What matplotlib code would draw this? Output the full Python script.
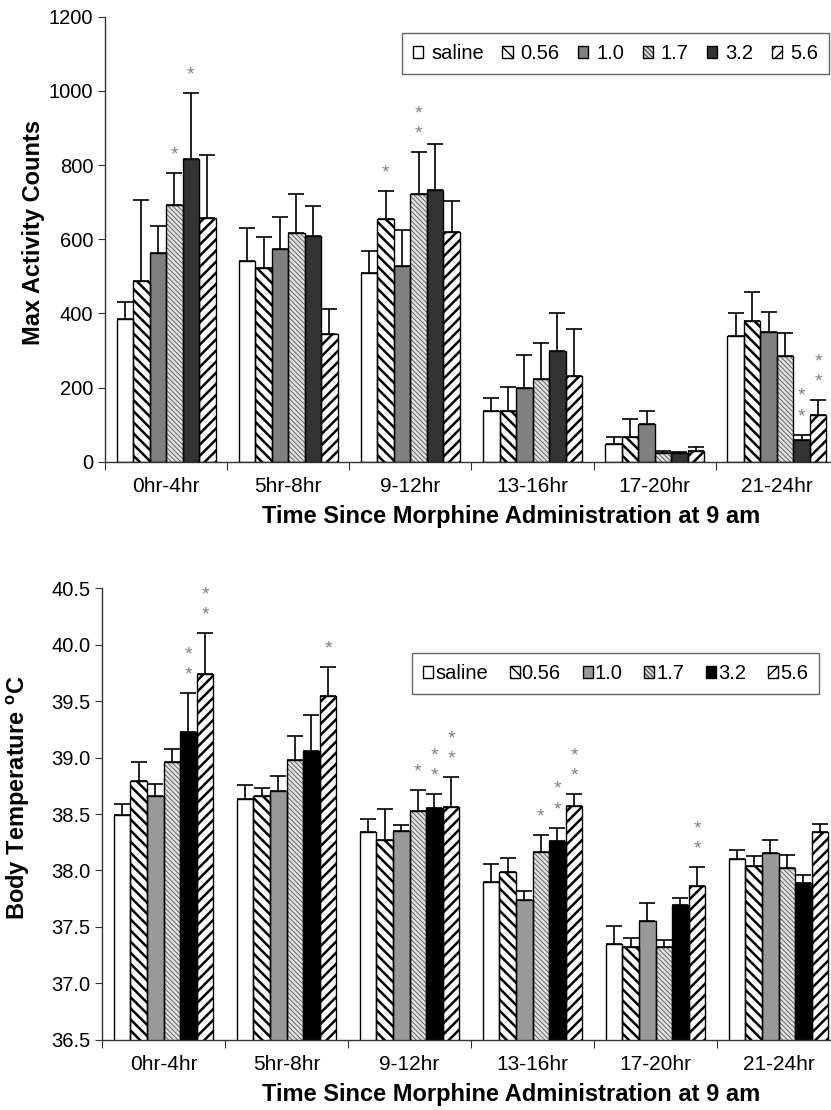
import numpy as np
import matplotlib.pyplot as plt
from matplotlib.patches import Patch
from matplotlib.legend_handler import HandlerTuple

plt.rcParams['font.family'] = ['Liberation Sans', 'DejaVu Sans']
plt.rcParams['mathtext.default'] = 'regular'

groups = ['0hr-4hr', '5hr-8hr', '9-12hr', '13-16hr', '17-20hr', '21-24hr']
doses = ['saline', '0.56', '1.0', '1.7', '3.2', '5.6']

# --- max activity counts (mean, SEM, number of stars) ---
act_saline = [384, 540, 510, 138, 48, 340]
act_056 = [487, 523, 654, 136, 67, 380]
act_10 = [564, 573, 529, 200, 101, 349]
act_17 = [693, 618, 721, 223, 24, 284]
act_32 = [816, 609, 734, 298, 24, 58]
act_56 = [656, 345, 620, 230, 30, 125]

act_sem_saline = [47, 91, 59, 35, 19, 60]
act_sem_056 = [220, 84, 77, 65, 49, 78]
act_sem_10 = [72, 86, 96, 89, 37, 56]
act_sem_17 = [85, 103, 113, 97, 5, 63]
act_sem_32 = [177, 80, 122, 103, 2, 15]
act_sem_56 = [172, 68, 84, 127, 10, 42]

act_stars_saline = [0, 0, 0, 0, 0, 0]
act_stars_056 = [0, 0, 1, 0, 0, 0]
act_stars_10 = [0, 0, 0, 0, 0, 0]
act_stars_17 = [1, 0, 2, 0, 0, 0]
act_stars_32 = [1, 0, 0, 0, 0, 2]
act_stars_56 = [0, 0, 0, 0, 0, 2]

# --- body temperature ---
tmp_saline = [38.49, 38.63, 38.34, 37.90, 37.35, 38.10]
tmp_056 = [38.79, 38.66, 38.27, 37.99, 37.32, 38.04]
tmp_10 = [38.66, 38.70, 38.35, 37.74, 37.55, 38.15]
tmp_17 = [38.96, 38.98, 38.53, 38.16, 37.32, 38.02]
tmp_32 = [39.23, 39.06, 38.55, 38.26, 37.69, 37.89]
tmp_56 = [39.74, 39.55, 38.56, 38.57, 37.86, 38.34]

tmp_sem_saline = [0.10, 0.13, 0.12, 0.16, 0.16, 0.08]
tmp_sem_056 = [0.17, 0.07, 0.27, 0.12, 0.08, 0.09]
tmp_sem_10 = [0.11, 0.14, 0.05, 0.08, 0.16, 0.12]
tmp_sem_17 = [0.12, 0.21, 0.18, 0.15, 0.06, 0.12]
tmp_sem_32 = [0.34, 0.32, 0.13, 0.12, 0.07, 0.07]
tmp_sem_56 = [0.36, 0.25, 0.27, 0.11, 0.17, 0.07]

tmp_stars_saline = [0, 0, 0, 0, 0, 0]
tmp_stars_056 = [0, 0, 0, 0, 0, 0]
tmp_stars_10 = [0, 0, 0, 0, 0, 0]
tmp_stars_17 = [0, 0, 1, 1, 0, 0]
tmp_stars_32 = [2, 0, 2, 2, 0, 0]
tmp_stars_56 = [2, 1, 2, 2, 2, 0]

act_means = [act_saline, act_056, act_10, act_17, act_32, act_56]
act_sems = [act_sem_saline, act_sem_056, act_sem_10, act_sem_17, act_sem_32, act_sem_56]
act_stars = [act_stars_saline, act_stars_056, act_stars_10, act_stars_17, act_stars_32, act_stars_56]
tmp_means = [tmp_saline, tmp_056, tmp_10, tmp_17, tmp_32, tmp_56]
tmp_sems = [tmp_sem_saline, tmp_sem_056, tmp_sem_10, tmp_sem_17, tmp_sem_32, tmp_sem_56]
tmp_stars = [tmp_stars_saline, tmp_stars_056, tmp_stars_10, tmp_stars_17, tmp_stars_32, tmp_stars_56]

# style per dose: (face, hatch, hatch colour, hatch linewidth)
style_top = [('white', '', 'black', 1.0),
             ('white', '\\\\\\', 'black', 1.8),
             ('#808080', '', 'black', 1.0),
             ('#e0e0e0', '\\\\\\\\\\\\\\', '#555555', 0.6),
             ('#333333', '', 'black', 1.0),
             ('white', '///', 'black', 1.8)]
style_bot = [('white', '', 'black', 1.0),
             ('white', '\\\\\\', 'black', 1.8),
             ('#999999', '', 'black', 1.0),
             ('#e0e0e0', '\\\\\\\\\\\\\\', '#555555', 0.6),
             ('black', '', 'black', 1.0),
             ('white', '///', 'black', 1.8)]

FS = 14.5
W = 0.135
x = np.arange(len(groups))


def draw(ax, means, sems, stars, styles):
    handles = []
    for i in range(len(doses)):
        face, hatch, hcol, hlw = styles[i]
        pos = x + (i - 2.5) * W
        with plt.rc_context({'hatch.linewidth': hlw}):
            bars = ax.bar(pos, means[i], W, color=face, hatch=hatch,
                          edgecolor=hcol, linewidth=0, zorder=2)
            for b in bars:
                if hasattr(b, 'set_hatch_linewidth'):
                    b.set_hatch_linewidth(hlw)
            hp = Patch(facecolor=face, hatch=hatch, edgecolor=hcol, linewidth=0)
            if hasattr(hp, 'set_hatch_linewidth'):
                hp.set_hatch_linewidth(min(hlw, 1.0))
        ax.bar(pos, means[i], W, fill=False, edgecolor='black',
               linewidth=1.0, zorder=3)
        ax.errorbar(pos, means[i], yerr=[np.zeros(len(groups)), sems[i]],
                    fmt='none', ecolor='black', elinewidth=1.2,
                    capsize=5.5, capthick=1.2, zorder=4)
        for j in range(len(groups)):
            for k in range(stars[i][j]):
                ax.annotate('*', (pos[j], means[i][j] + sems[i][j]),
                            xytext=(0, 13 + 14.5 * k), textcoords='offset points',
                            ha='center', va='center', color='#808080', fontsize=14)
        op = Patch(fill=False, edgecolor='black', linewidth=1.0)
        handles.append((hp, op))

    ax.set_xlim(-0.5, len(groups) - 0.5)
    ax.set_xticks(np.arange(len(groups) + 1) - 0.5)
    ax.set_xticklabels([])
    ax.set_xticks(x, minor=True)
    ax.set_xticklabels(groups, minor=True, fontsize=15)
    ax.tick_params(axis='x', which='major', length=6, direction='out', color='#333333')
    ax.tick_params(axis='x', which='minor', length=0, pad=11)
    ax.tick_params(axis='y', length=5, labelsize=FS, color='#333333')
    for s in ['top', 'right']:
        ax.spines[s].set_visible(False)
    for s in ['left', 'bottom']:
        ax.spines[s].set_color('#333333')
        ax.spines[s].set_linewidth(1.0)
    return handles


fig = plt.figure(figsize=(8.31, 11.10), dpi=100)

ax1 = fig.add_axes([105 / 831, 1 - 461.7 / 1110, 733 / 831, 445 / 1110])
h1 = draw(ax1, act_means, act_sems, act_stars, style_top)
ax1.set_ylim(0, 1200)
ax1.set_yticks(np.arange(0, 1201, 200))
ax1.set_ylabel('Max Activity Counts', fontsize=17, fontweight='bold')
ax1.yaxis.set_label_coords(-0.082, 0.516)
fig.text(511 / 831, 1 - 516 / 1110, 'Time Since Morphine Administration at 9 am',
         ha='center', va='center', fontsize=17, fontweight='bold')
leg1 = fig.legend(h1, doses, handler_map={tuple: HandlerTuple(ndivide=1, pad=0)},
                  loc='upper left', bbox_to_anchor=(402 / 831, 1 - 33 / 1110),
                  borderaxespad=0, ncol=6, fontsize=FS,
                  handlelength=0.5, handleheight=0.5,
                  handletextpad=0.4, columnspacing=0.92, borderpad=0.55,
                  fancybox=False, edgecolor='#666666', framealpha=1)
leg1.get_frame().set_linewidth(1.0)

ax2 = fig.add_axes([102 / 831, 1 - 1039.7 / 1110, 738 / 831, 451.4 / 1110])
h2 = draw(ax2, tmp_means, tmp_sems, tmp_stars, style_bot)
ax2.set_ylim(36.5, 40.5)
ax2.set_yticks(np.arange(36.5, 40.51, 0.5))
ax2.set_yticklabels(['%.1f' % v for v in np.arange(36.5, 40.51, 0.5)])
ax2.set_ylabel('Body Temperature $^{o}$C', fontsize=17, fontweight='bold')
ax2.yaxis.set_label_coords(-0.095, 0.536)
fig.text(511 / 831, 1 - 1094 / 1110, 'Time Since Morphine Administration at 9 am',
         ha='center', va='center', fontsize=17, fontweight='bold')
leg2 = fig.legend(h2, doses, handler_map={tuple: HandlerTuple(ndivide=1, pad=0)},
                  loc='upper left', bbox_to_anchor=(412 / 831, 1 - 653 / 1110),
                  borderaxespad=0, ncol=6, fontsize=FS,
                  handlelength=0.5, handleheight=0.5,
                  handletextpad=0.1, columnspacing=1.08, borderpad=0.55,
                  fancybox=False, edgecolor='#666666', framealpha=1)
leg2.get_frame().set_linewidth(1.0)

fig.savefig('out.png', dpi=100)
